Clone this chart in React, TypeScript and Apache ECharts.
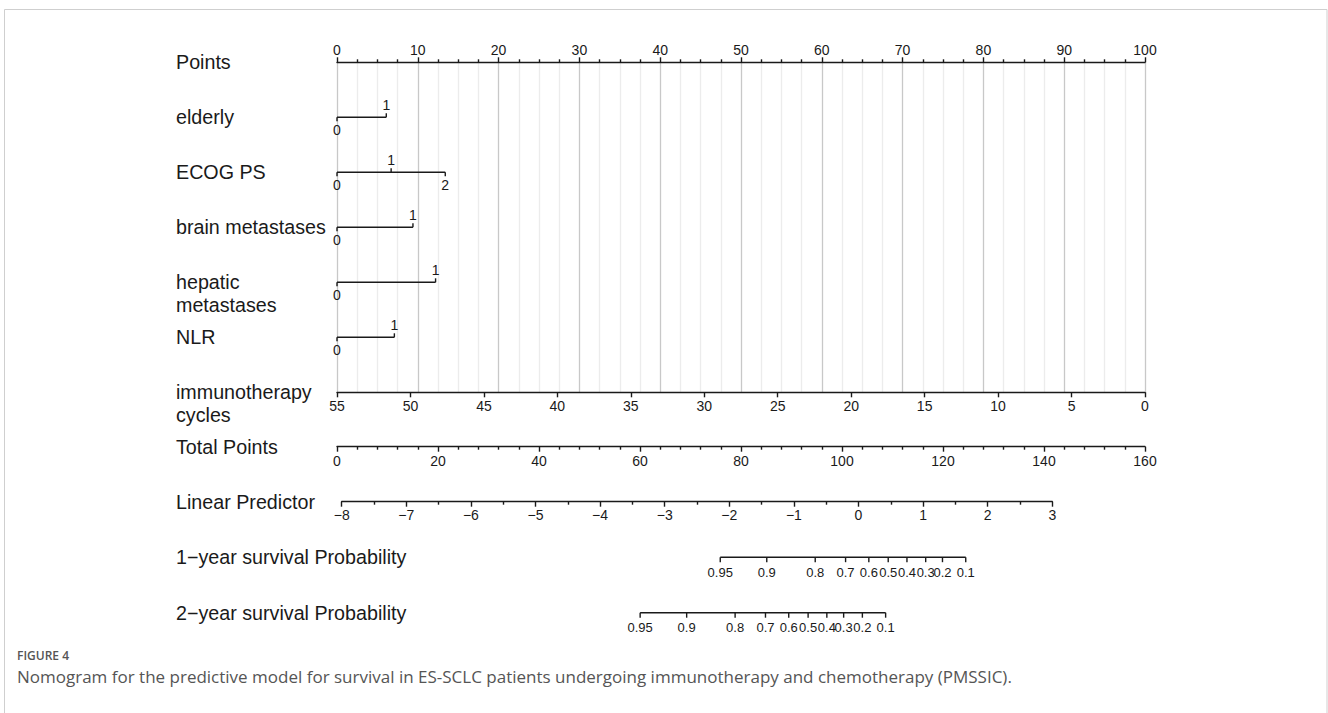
import React, { useEffect, useRef } from "react";
import * as echarts from "echarts";

// ---------------- data ----------------
const pointsLabel = "Points";
const variableNames = ["elderly", "ECOG PS", "brain metastases", "hepatic\nmetastases", "NLR"];
const variableLevels = [["0", "1"], ["0", "1", "2"], ["0", "1"], ["0", "1"], ["0", "1"]];
const variablePoints = [[0, 6.1], [0, 6.7, 13.4], [0, 9.4], [0, 12.2], [0, 7.1]];
const cyclesLabel = "immunotherapy\ncycles";
const totalPointsLabel = "Total Points";
const lpLabel = "Linear Predictor";
const survivalNames = ["1\u2212year survival Probability", "2\u2212year survival Probability"];
const survivalTickLabels = ["0.95", "0.9", "0.8", "0.7", "0.6", "0.5", "0.4", "0.3", "0.2", "0.1"];
// positions of the probability ticks on the linear predictor scale
const survival1yLP = [-2.14, -1.42, -0.67, -0.2, 0.16, 0.46, 0.75, 1.04, 1.3, 1.66];
const survival2yLP = [-3.38, -2.66, -1.91, -1.44, -1.08, -0.78, -0.49, -0.23, 0.06, 0.42];
const pointsRange = [0, 100];
const cyclesRange = [0, 55];
const totalPointsRange = [0, 160];
const lpRange = [-8, 3];
const figureTitle = "FIGURE 4";
const figureCaption =
  "Nomogram for the predictive model for survival in ES-SCLC patients undergoing immunotherapy and chemotherapy (PMSSIC).";

// ---------------- styles ----------------
const INK = "#1a1a1a";
const LW = 1.4;
const FONT = "'Liberation Sans', Arial, Helvetica, sans-serif";
const LABEL_X = 176;
const TICK = 5;
const TICK_FS = 14;

const axisText = { color: INK, fontSize: TICK_FS, fontFamily: FONT };

function rowLabelSeries(name: string, xAxisIndex: number, yAxisIndex: number, labels: string[], rows: number[]) {
  return {
    type: "custom",
    name,
    xAxisIndex,
    yAxisIndex,
    silent: true,
    data: labels.map((_, i) => [0, rows[i]]),
    renderItem: (params: any, api: any) => {
      const c = api.coord([api.value(0), api.value(1)]);
      return {
        type: "text",
        style: {
          text: labels[params.dataIndex],
          x: LABEL_X,
          y: c[1] - 11.5,
          align: "left",
          verticalAlign: "top",
          lineHeight: 23,
          fontSize: 19.7,
          fontFamily: FONT,
          fill: INK,
        },
      };
    },
  };
}

function survivalSeries() {
  const scales = [survival1yLP, survival2yLP];
  return {
    type: "custom",
    name: "survival",
    xAxisIndex: 3,
    yAxisIndex: 2,
    silent: true,
    data: scales.map((s, i) => [s[0], i + 1]),
    renderItem: (params: any, api: any) => {
      const s = scales[params.dataIndex];
      const row = api.value(1);
      const a = api.coord([s[0], row]);
      const b = api.coord([s[s.length - 1], row]);
      const children: any[] = [
        { type: "line", shape: { x1: a[0], y1: a[1], x2: b[0], y2: b[1] }, style: { stroke: INK, lineWidth: LW } },
      ];
      s.forEach((v, j) => {
        const c = api.coord([v, row]);
        children.push({
          type: "line",
          shape: { x1: c[0], y1: c[1], x2: c[0], y2: c[1] + TICK },
          style: { stroke: INK, lineWidth: LW },
        });
        children.push({
          type: "text",
          style: {
            text: survivalTickLabels[j],
            x: c[0],
            y: c[1] + 15,
            align: "center",
            verticalAlign: "middle",
            fontSize: 13,
            fontFamily: FONT,
            fill: INK,
          },
        });
      });
      return { type: "group", children };
    },
  };
}

function variableSeries() {
  return {
    type: "custom",
    name: "variables",
    xAxisIndex: 0,
    yAxisIndex: 0,
    silent: true,
    data: variableNames.map((_, i) => [0, i + 1]),
    renderItem: (params: any, api: any) => {
      const i = params.dataIndex;
      const row = api.value(1);
      const pts = variablePoints[i];
      const levels = variableLevels[i];
      const a = api.coord([pts[0], row]);
      const b = api.coord([pts[pts.length - 1], row]);
      const children: any[] = [
        { type: "line", shape: { x1: a[0], y1: a[1], x2: b[0], y2: b[1] }, style: { stroke: INK, lineWidth: LW } },
      ];
      pts.forEach((p, j) => {
        const c = api.coord([p, row]);
        const dir = j % 2 === 1 ? -1 : 1;
        children.push({
          type: "line",
          shape: { x1: c[0], y1: c[1], x2: c[0], y2: c[1] + dir * 4 },
          style: { stroke: INK, lineWidth: LW },
        });
        children.push({
          type: "text",
          style: {
            text: levels[j],
            x: c[0],
            y: c[1] + dir * 12.5,
            align: "center",
            verticalAlign: "middle",
            fontSize: TICK_FS,
            fontFamily: FONT,
            fill: INK,
          },
        });
      });
      return { type: "group", children };
    },
  };
}

const lineStyle = { color: INK, width: LW };

export default function App() {
  const ref = useRef<HTMLDivElement>(null);
  useEffect(() => {
    document.body.style.margin = "0";
    if (!ref.current) return;
    const chart = echarts.init(ref.current, undefined, { renderer: "svg" });
    const option: any = {
      animation: false,
      backgroundColor: "#ffffff",
      grid: [
        { left: 337, top: 62.3, width: 808, height: 330 },
        { left: 337, top: 445.7, width: 808, height: 1 },
        { left: 341.7, top: 501.7, width: 710.6, height: 111 },
      ],
      xAxis: [
        {
          gridIndex: 0,
          type: "value",
          position: "top",
          min: pointsRange[0],
          max: pointsRange[1],
          interval: 10,
          axisLine: { show: true, onZero: false, lineStyle },
          axisTick: { show: true, length: TICK, lineStyle },
          minorTick: { show: true, splitNumber: 4, length: 3, lineStyle },
          axisLabel: { margin: 5, ...axisText },
          splitLine: { show: true, lineStyle: { color: "#c8c8c8", width: 1.3 } },
          minorSplitLine: { show: true, lineStyle: { color: "#ececec", width: 1.3 } },
        },
        {
          gridIndex: 0,
          type: "value",
          position: "bottom",
          min: cyclesRange[0],
          max: cyclesRange[1],
          interval: 5,
          inverse: true,
          axisLine: { show: true, onZero: false, lineStyle },
          axisTick: { show: true, length: TICK, lineStyle },
          minorTick: { show: false },
          axisLabel: { margin: 7, ...axisText },
          splitLine: { show: false },
        },
        {
          gridIndex: 1,
          type: "value",
          position: "bottom",
          min: totalPointsRange[0],
          max: totalPointsRange[1],
          interval: 20,
          axisLine: { show: true, onZero: false, lineStyle },
          axisTick: { show: true, length: TICK, lineStyle },
          minorTick: { show: true, splitNumber: 5, length: 3, lineStyle },
          axisLabel: { margin: 7, ...axisText },
          splitLine: { show: false },
        },
        {
          gridIndex: 2,
          type: "value",
          position: "top",
          min: lpRange[0],
          max: lpRange[1],
          interval: 1,
          axisLine: { show: true, onZero: false, lineStyle },
          axisTick: { show: true, inside: true, length: TICK, lineStyle },
          minorTick: { show: true, splitNumber: 2, length: 3, lineStyle },
          axisLabel: {
            inside: true,
            margin: 6,
            ...axisText,
            formatter: (v: number) => (v < 0 ? "\u2212" + Math.abs(v) : String(v)),
          },
          splitLine: { show: false },
        },
      ],
      yAxis: [
        { gridIndex: 0, type: "value", min: 0, max: 6, inverse: true, show: false },
        { gridIndex: 1, type: "value", min: 0, max: 1, show: false },
        { gridIndex: 2, type: "value", min: 0, max: 2, inverse: true, show: false },
      ],
      series: [
        variableSeries(),
        rowLabelSeries("labels0", 0, 0, [pointsLabel, ...variableNames, cyclesLabel], [0, 1, 2, 3, 4, 5, 6]),
        rowLabelSeries("labels1", 2, 1, [totalPointsLabel], [0]),
        rowLabelSeries("labels2", 3, 2, [lpLabel, ...survivalNames], [0, 1, 2]),
        survivalSeries(),
      ],
      graphic: [
        {
          type: "rect",
          silent: true,
          shape: { x: 4.5, y: 9.5, width: 1322.5, height: 720 },
          style: { fill: "none", stroke: "#cfcfcf", lineWidth: 1 },
        },
        {
          type: "text",
          silent: true,
          style: {
            text: figureTitle,
            x: 17,
            y: 655,
            verticalAlign: "middle",
            fontSize: 12,
            fontWeight: 600,
            fontFamily: "'Open Sans', 'Noto Sans', sans-serif",
            fill: "#555555",
          },
        },
        {
          type: "text",
          silent: true,
          style: {
            text: figureCaption,
            x: 17,
            y: 676,
            verticalAlign: "middle",
            fontSize: 17,
            fontFamily: "'Open Sans', 'Noto Sans', sans-serif",
            fill: "#555555",
          },
        },
      ],
    };
    chart.setOption(option);
    return () => chart.dispose();
  }, []);
  return <div ref={ref} style={{ width: 1328, height: 713 }} />;
}
